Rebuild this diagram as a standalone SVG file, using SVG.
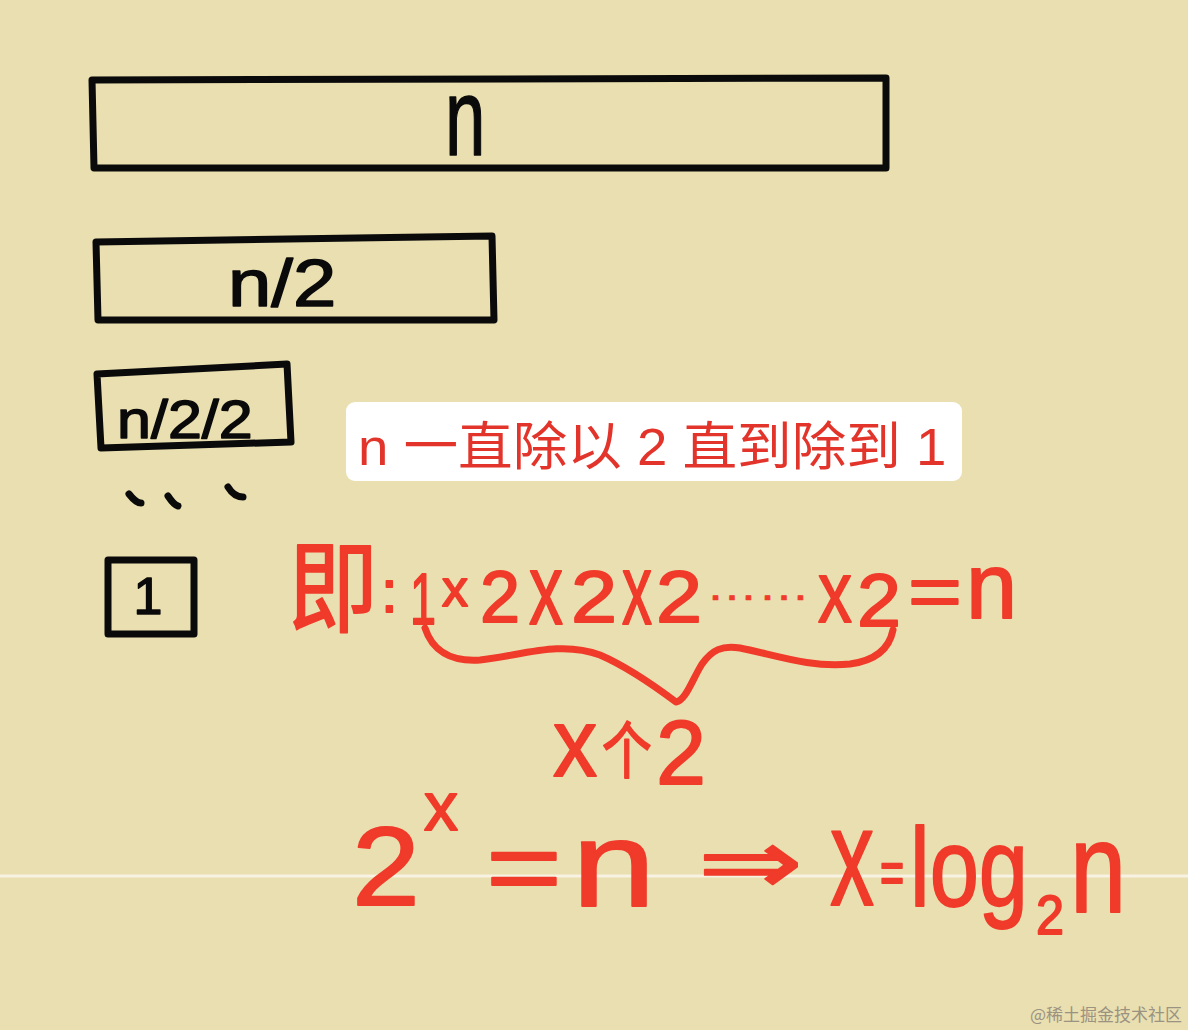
<svg xmlns="http://www.w3.org/2000/svg" width="1188" height="1030" viewBox="0 0 1188 1030">
<style>
.box{fill:none;stroke:#0a0a0a;stroke-width:7;stroke-linejoin:round;stroke-linecap:round}
.hb{font-family:"Liberation Sans","DejaVu Sans",sans-serif;fill:#0a0a0a;stroke:#0a0a0a;stroke-width:1.5;stroke-linejoin:round}
.hr{font-family:"Liberation Sans","DejaVu Sans","Noto Sans CJK SC",sans-serif;fill:#f03a2a;stroke:#f03a2a;stroke-width:1.8;stroke-linejoin:round}
.cj{font-family:"Noto Sans CJK SC",sans-serif}
.note{font-family:"Liberation Sans","Noto Sans CJK SC",sans-serif;fill:#e2342a;font-size:52px}
</style>
<rect width="1188" height="1030" fill="#eadfb0"/>
<line x1="0" y1="876" x2="1188" y2="876" stroke="#f7f2e2" stroke-width="3"/>
<g id="box-n">
<path class="box" d="M92 80 L886 78 L886 168 L94 168 Z"/>
<text class="hb" transform="translate(445 155) scale(0.66 1)" font-size="110">n</text>
</g>
<g id="box-n2">
<path class="box" d="M96 242 L492 236 L494 320 L98 320 Z"/>
<text class="hb" transform="translate(228 306) scale(1.18 1)" font-size="66">n/2</text>
</g>
<g id="box-n22">
<path class="box" d="M97 374 L287 364 L291 442 L101 448 Z"/>
<text class="hb" transform="translate(117 438) scale(1.13 1)" font-size="54">n/2/2</text>
</g>
<g id="dots" fill="none" stroke="#0a0a0a" stroke-width="7" stroke-linecap="round">
<path d="M129 494 Q136 503 141 503"/>
<path d="M168 496 Q174 505 178 506"/>
<path d="M228 487 Q234 497 243 497"/>
</g>
<g id="box-1">
<rect class="box" x="108" y="560" width="86" height="74"/>
<text class="hb" x="148" y="614" font-size="52" text-anchor="middle">1</text>
</g>
<g id="note">
<rect x="346" y="402" width="616" height="79" rx="9" fill="#ffffff"/>
<text class="note" transform="translate(358 465) scale(1.05 1)">n 一直除以 2 直到除到 1</text>
</g>
<g id="equation1" class="hr">
<text class="cj" transform="translate(288 624) scale(0.9 1)" font-size="100">即</text>
<text x="381" y="612" font-size="60">:</text>
<text transform="translate(410 624) scale(0.65 1)" font-size="72">1</text>
<text x="442" y="606" font-size="52">x</text>
<text x="480" y="622" font-size="72">2</text>
<text transform="translate(529 624) scale(0.68 1)" font-size="100">x</text>
<text transform="translate(571 622) scale(1.15 1)" font-size="72">2</text>
<text transform="translate(622 624) scale(0.6 1)" font-size="100">x</text>
<text transform="translate(656 622) scale(1.15 1)" font-size="72">2</text>
<text transform="translate(706 600) scale(1.3 1)" font-size="40" stroke-width="0.5">……</text>
<text transform="translate(818 622) scale(0.77 1)" font-size="88">x</text>
<text transform="translate(857 626) scale(1.07 1)" font-size="74">2</text>
<text transform="translate(908 616) scale(1.32 1)" font-size="70">=</text>
<text x="966" y="618" font-size="92">n</text>
</g>
<g id="connectors">
<path d="M425 628 C432 650 450 662 480 660 C520 656 560 640 600 655 C630 668 660 690 676 702 C686 700 692 680 702 664 C712 650 722 645 740 648 C775 655 810 668 850 664 C880 660 890 645 893 630" fill="none" stroke="#f03a2a" stroke-width="7" stroke-linecap="round" stroke-linejoin="round"/>
</g>
<g id="label-x2" class="hr">
<text transform="translate(553 776) scale(0.92 1)" font-size="96">x</text>
<text class="cj" transform="translate(602 774) scale(0.8 1)" font-size="62">个</text>
<text x="656" y="784" font-size="90">2</text>
</g>
<g id="equation2" class="hr">
<text transform="translate(352 905) scale(1.09 1)" font-size="112">2</text>
<text x="424" y="830" font-size="68">x</text>
<text transform="translate(486 902) scale(1.3 1)" font-size="100">=</text>
<text transform="translate(572 906) scale(1.25 1)" font-size="120">n</text>
<text transform="translate(698 893) scale(1.39 1)" font-size="90" font-family="'DejaVu Sans',sans-serif">⇒</text>
<text transform="translate(830 905) scale(0.63 1)" font-size="140">x</text>
<text transform="translate(880 893) scale(0.69 1)" font-size="60">=</text>
<text transform="translate(910 906) scale(0.79 1)" font-size="112">log</text>
<text transform="translate(1036 934) scale(0.9 1)" font-size="56">2</text>
<text transform="translate(1070 912) scale(0.79 1)" font-size="128">n</text>
</g>
<text x="1182" y="1021" font-family="'Noto Sans CJK SC',sans-serif" font-size="17" fill="#9a9382" text-anchor="end">@稀土掘金技术社区</text>
</svg>
